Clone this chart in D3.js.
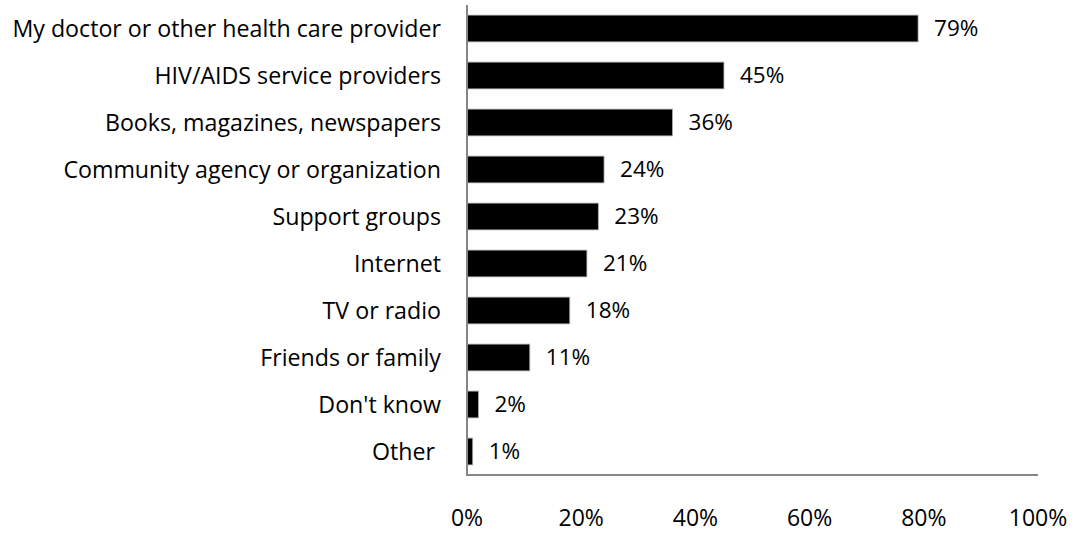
<!DOCTYPE html>
<html><head><meta charset="utf-8">
<script src="https://cdn.jsdelivr.net/npm/d3@7"></script>
<style>body{margin:0;background:#fff}svg{display:block}text{font-family:"Open Sans", Lato, sans-serif;fill:#000;white-space:pre}</style>
</head><body><svg id="c" width="1075" height="533"></svg>
<script>
const categories = ["My doctor or other health care provider","HIV/AIDS service providers","Books, magazines, newspapers","Community agency or organization","Support groups","Internet","TV or radio","Friends or family","Don't know","Other "];
const values = [79,45,36,24,23,21,18,11,2,1];
const tickValues = [0,20,40,60,80,100];

const svg = d3.select("#c");
const x = d3.scaleLinear().domain([0,100]).range([467,1038]);
const y = d3.scaleBand().domain(categories).range([5,475]).paddingInner(0.43).paddingOuter(0.215);

svg.selectAll("rect.bar").data(values).enter().append("rect")
  .attr("x", x(0)).attr("y",(d,i)=>y(categories[i]))
  .attr("width",d=>x(d)-x(0)).attr("height",y.bandwidth())
  .attr("fill","#000").attr("stroke","#b0b0b0").attr("stroke-width",0.8);

svg.selectAll("text.val").data(values).enter().append("text")
  .attr("x",d=>x(d)+16).attr("y",(d,i)=>y(categories[i])+y.bandwidth()/2)
  .attr("dy","0.35em").attr("font-size",22.5).text(d=>d+"%");

svg.selectAll("text.cat").data(categories).enter().append("text")
  .attr("x",441).attr("y",d=>y(d)+y.bandwidth()/2)
  .attr("dy","0.35em").attr("text-anchor","end").attr("font-size",23.2).text(d=>d);

svg.append("line").attr("x1",x(0)).attr("x2",x(0)).attr("y1",5).attr("y2",475).attr("stroke","#868686").attr("stroke-width",2);
svg.append("line").attr("x1",x(0)-1).attr("x2",x(100)).attr("y1",475).attr("y2",475).attr("stroke","#868686").attr("stroke-width",2);

svg.selectAll("text.tick").data(tickValues).enter().append("text")
  .attr("x",d=>x(d)).attr("y",518).attr("dy","0.35em").attr("text-anchor","middle").attr("font-size",23).text(d=>d+"%");
</script></body></html>
